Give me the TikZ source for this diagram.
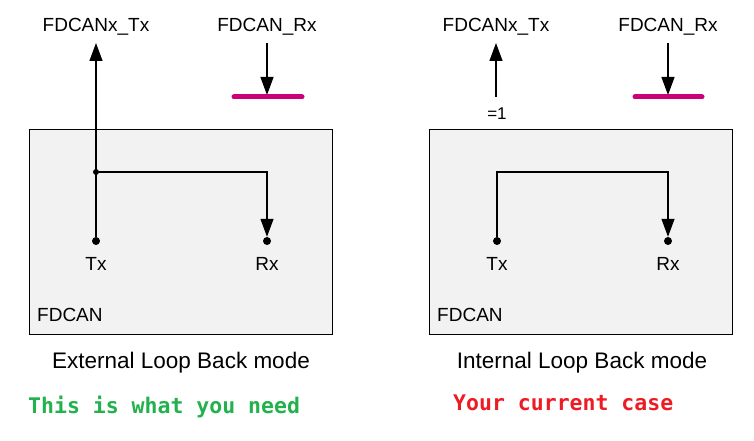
\documentclass[tikz,border=0pt]{standalone}
\usepackage{fontspec}
\setmainfont{Liberation Sans}
\newfontfamily\codefont{DejaVu Sans Mono}
\usetikzlibrary{arrows.meta}

\definecolor{boxgray}{RGB}{242,242,242}
\definecolor{busmagenta}{RGB}{204,0,119}
\definecolor{needgreen}{RGB}{34,177,76}
\definecolor{casered}{RGB}{237,28,36}

\begin{document}
\begin{tikzpicture}[
    x=1pt, y=-1pt,
    block/.style={draw=black, fill=boxgray, line width=1.2pt},
    pin/.style={circle, fill=black, inner sep=0pt, minimum size=8pt},
    junction/.style={circle, fill=black, inner sep=0pt, minimum size=6pt},
    signal/.style={font=\fontsize{19}{22}\selectfont, inner sep=0pt, anchor=base},
    caption/.style={font=\fontsize{22.5}{26}\selectfont, inner sep=0pt, anchor=base},
    remark/.style={font=\codefont\bfseries\fontsize{21.5}{24}\selectfont, inner sep=0pt, anchor=base west},
    wire/.style={line width=1.2pt},
    flow/.style={wire, -{Triangle[length=18pt, width=13pt]}},
    bus/.style={draw=busmagenta, line width=5pt, line cap=round}
]
\useasboundingbox (0,0) rectangle (754,441);

% Define blocks
\node[block, minimum width=303pt, minimum height=205pt, anchor=north west] (lblock) at (29,129) {};
\node[block, minimum width=303pt, minimum height=205pt, anchor=north west] (rblock) at (429,129) {};

% External loop back (left)
\node[signal] (ltxlabel) at (96,32) {FDCANx\_Tx};
\node[signal] (lrxlabel) at (267,32) {FDCAN\_Rx};
\coordinate (ltxtip) at (96,43);
\coordinate (lrxtop) at (267,43);
\coordinate (lbar) at (267,95);
\coordinate (lbarw) at (234,97);
\coordinate (lbare) at (302,97);
\node[pin] (ltx) at (96,241) {};
\node[pin] (lrx) at (267,241) {};
\node[junction] (ljn) at (96,172) {};
\node[signal] (ltxname) at (96,270) {Tx};
\node[signal] (lrxname) at (267,270) {Rx};
\node[signal, anchor=base west] (lfdcan) at (37,321) {FDCAN};
\node[caption] (lmode) at (181,368) {External Loop Back mode};
\node[remark, text=needgreen] (lnote) at (28,413) {This is what you need};

% Internal loop back (right)
\node[signal] (rtxlabel) at (496,32) {FDCANx\_Tx};
\node[signal] (rrxlabel) at (668,32) {FDCAN\_Rx};
\coordinate (rtxtip) at (496,43);
\coordinate (rtxbase) at (496,97);
\coordinate (rrxtop) at (668,43);
\coordinate (rbar) at (668,95);
\coordinate (rbarw) at (635,97);
\coordinate (rbare) at (702,97);
\coordinate (rloop) at (497,172);
\node[signal, font=\fontsize{17}{20}\selectfont] (rconst) at (497,119) {=1};
\node[pin] (rtx) at (497,241) {};
\node[pin] (rrx) at (668,241) {};
\node[signal] (rtxname) at (497,270) {Tx};
\node[signal] (rrxname) at (668,270) {Rx};
\node[signal, anchor=base west] (rfdcan) at (437,321) {FDCAN};
\node[caption] (rmode) at (582,368) {Internal Loop Back mode};
\node[remark, text=casered] (rnote) at (453,410) {Your current case};

% Relations
\draw[flow] (ltx) -- (ltxtip);
\draw[flow] (ljn) -| (lrx);
\draw[flow] (lrxtop) -- (lbar);
\draw[bus] (lbarw) -- (lbare);

\draw[flow] (rtxbase) -- (rtxtip);
\draw[flow] (rtx) -- (rloop) -| (rrx);
\draw[flow] (rrxtop) -- (rbar);
\draw[bus] (rbarw) -- (rbare);

\end{tikzpicture}
\end{document}
